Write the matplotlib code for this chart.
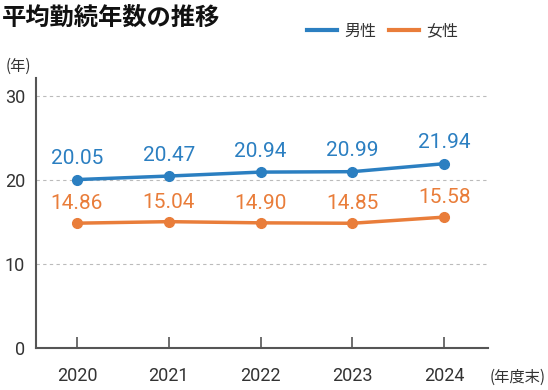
import matplotlib
matplotlib.use("Agg")
import matplotlib.pyplot as plt

plt.rcParams['font.family'] = ['Roboto', 'Noto Sans CJK JP', 'DejaVu Sans']

years = [2020, 2021, 2022, 2023, 2024]
male = [20.05, 20.47, 20.94, 20.99, 21.94]
female = [14.86, 15.04, 14.90, 14.85, 15.58]
yticks = [0, 10, 20, 30]

c_male = '#2b7fc1'
c_female = '#e97d3a'
c_text = '#333333'
c_axis = '#555555'

fig = plt.figure(figsize=(5.48, 3.9), dpi=100)
ax = fig.add_axes([36/548, 1-348/390, (488-36)/548, (348-78)/390])

ax.set_xlim(2020 - 41/92, 2024 + 44/92)
ax.set_ylim(0, 270/8.4)

for v in yticks[1:]:
    ax.axhline(v, color='#bbbbbb', lw=0.8, ls=(0, (3, 3)), zorder=1)

ax.plot(years, male, color=c_male, lw=2.5, marker='o', ms=7, zorder=3, label='男性')
ax.plot(years, female, color=c_female, lw=2.5, marker='o', ms=7, zorder=3, label='女性')

for x, v in zip(years, male):
    ax.annotate(f'{v:.2f}', (x, v), xytext=(0, 15), textcoords='offset points',
                ha='center', va='center', fontsize=15, color=c_male)
for x, v in zip(years, female):
    ax.annotate(f'{v:.2f}', (x, v), xytext=(0, 14), textcoords='offset points',
                ha='center', va='center', fontsize=15, color=c_female)

for s in ['top', 'right']:
    ax.spines[s].set_visible(False)
for s in ['left', 'bottom']:
    ax.spines[s].set_color(c_axis)
    ax.spines[s].set_linewidth(1.5)

ax.set_yticks(yticks)
ax.set_yticklabels([str(v) for v in yticks])
ax.set_xticks(years)
ax.set_xticklabels([str(y) for y in years])
ax.tick_params(axis='y', length=0, pad=8, labelsize=13, labelcolor=c_text)
ax.tick_params(axis='x', direction='in', length=8, width=1.2, color=c_axis,
               pad=14, labelsize=13, labelcolor=c_text)

fig.text(2/548, 1-18/390, '平均勤続年数の推移', fontsize=17.5, fontweight='bold',
         family=['Noto Sans CJK JP'], color='#111111', va='center', ha='left')
fig.text(6/548, 1-66/390, '(年)', fontsize=11, family=['Noto Sans CJK JP'],
         color=c_text, va='center', ha='left')
fig.text(546/548, 1-377/390, '(年度末)', fontsize=11, family=['Noto Sans CJK JP'],
         color=c_text, va='center', ha='right')

# legend
fig.lines.append(plt.Line2D([307/548, 337/548], [1-30/390, 1-30/390], color=c_male, lw=3, transform=fig.transFigure))
fig.text(344/548, 1-31/390, '男性', fontsize=11.5, family=['Noto Sans CJK JP'], color=c_text, va='center', ha='left')
fig.lines.append(plt.Line2D([389/548, 419/548], [1-30/390, 1-30/390], color=c_female, lw=3, transform=fig.transFigure))
fig.text(426/548, 1-31/390, '女性', fontsize=11.5, family=['Noto Sans CJK JP'], color=c_text, va='center', ha='left')

fig.savefig('out.png', dpi=100)
